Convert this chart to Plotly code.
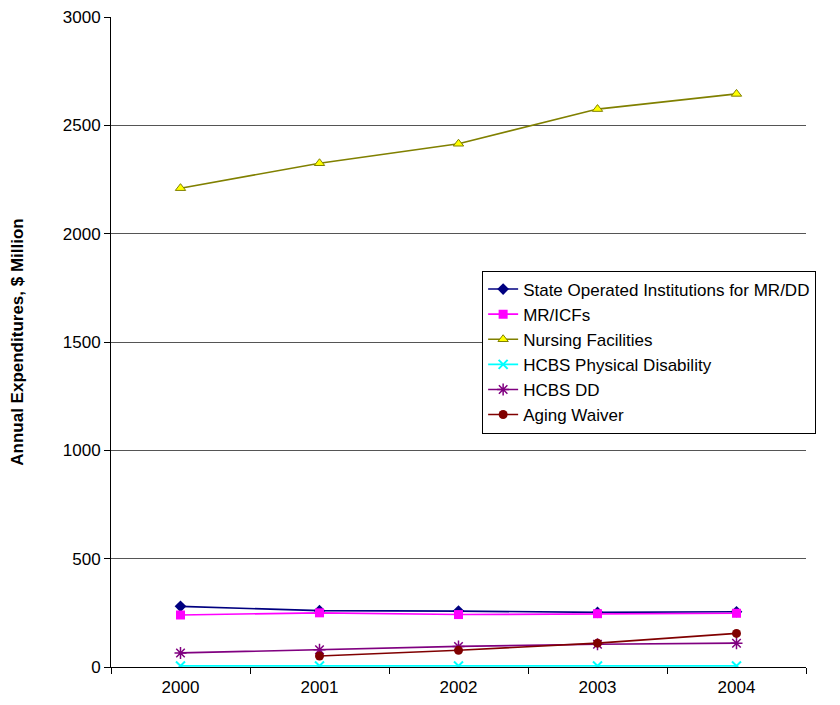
import plotly.graph_objects as go

years = ["2000", "2001", "2002", "2003", "2004"]

state_institutions = [280, 260, 258, 252, 255]
mr_icfs = [240, 250, 242, 246, 248]
nursing_facilities = [2210, 2325, 2415, 2575, 2645]
hcbs_physical = [5, 5, 5, 5, 5]
hcbs_dd = [65, 80, 95, 105, 110]
aging_waiver = [None, 51, 77, 110, 155]

y_ticks = [0, 500, 1000, 1500, 2000, 2500, 3000]

series = [
    ("State Operated Institutions for MR/DD", state_institutions,
     dict(symbol="diamond", size=9, color="#000080"), "#000080"),
    ("MR/ICFs", mr_icfs,
     dict(symbol="square", size=9, color="#FF00FF"), "#FF00FF"),
    ("Nursing Facilities", nursing_facilities,
     dict(symbol="triangle-up", size=9, color="#FFFF00",
          line=dict(color="#808000", width=1)), "#808000"),
    ("HCBS Physical Disability", hcbs_physical,
     dict(symbol="x-thin-open", size=9, color="#00FFFF",
          line=dict(color="#00FFFF", width=2)), "#00FFFF"),
    ("HCBS DD", hcbs_dd,
     dict(symbol="asterisk-open", size=10, color="#800080",
          line=dict(color="#800080", width=1.5)), "#800080"),
    ("Aging Waiver", aging_waiver,
     dict(symbol="circle", size=9, color="#800000"), "#800000"),
]

fig = go.Figure()
for name, vals, marker, color in series:
    fig.add_trace(go.Scatter(
        x=years, y=vals, name=name, mode="lines+markers",
        line=dict(color=color, width=1.6),
        marker=marker, connectgaps=False,
    ))

fig.update_layout(
    width=840, height=705,
    margin=dict(l=111, r=34, t=17, b=38),
    paper_bgcolor="white", plot_bgcolor="white",
    font=dict(family="Liberation Sans, Arial, sans-serif", size=17, color="black"),
    showlegend=True,
    legend=dict(
        x=0.534, y=0.61, xanchor="left", yanchor="top",
        bgcolor="white", bordercolor="black", borderwidth=1,
        font=dict(size=17),
        tracegroupgap=0,
    ),
)

fig.update_xaxes(
    type="category", range=[-0.5, 4.5], automargin=False,
    tickson="boundaries", ticks="outside", ticklen=6, tickcolor="black",
    showline=True, linecolor="black", linewidth=1,
    showgrid=False, tickfont=dict(size=17), ticklabelstandoff=5,
)
fig.update_yaxes(
    range=[0, 3000], tickvals=y_ticks, automargin=False,
    ticks="outside", ticklen=6, tickcolor="black",
    showline=True, linecolor="black", linewidth=1,
    showgrid=True, gridcolor="#555555", gridwidth=1,
    zeroline=False, tickfont=dict(size=17),
    title=dict(text="<b>Annual Expenditures, $ Million</b>",
               font=dict(size=17), standoff=34),
)

fig.write_html("out.html")
